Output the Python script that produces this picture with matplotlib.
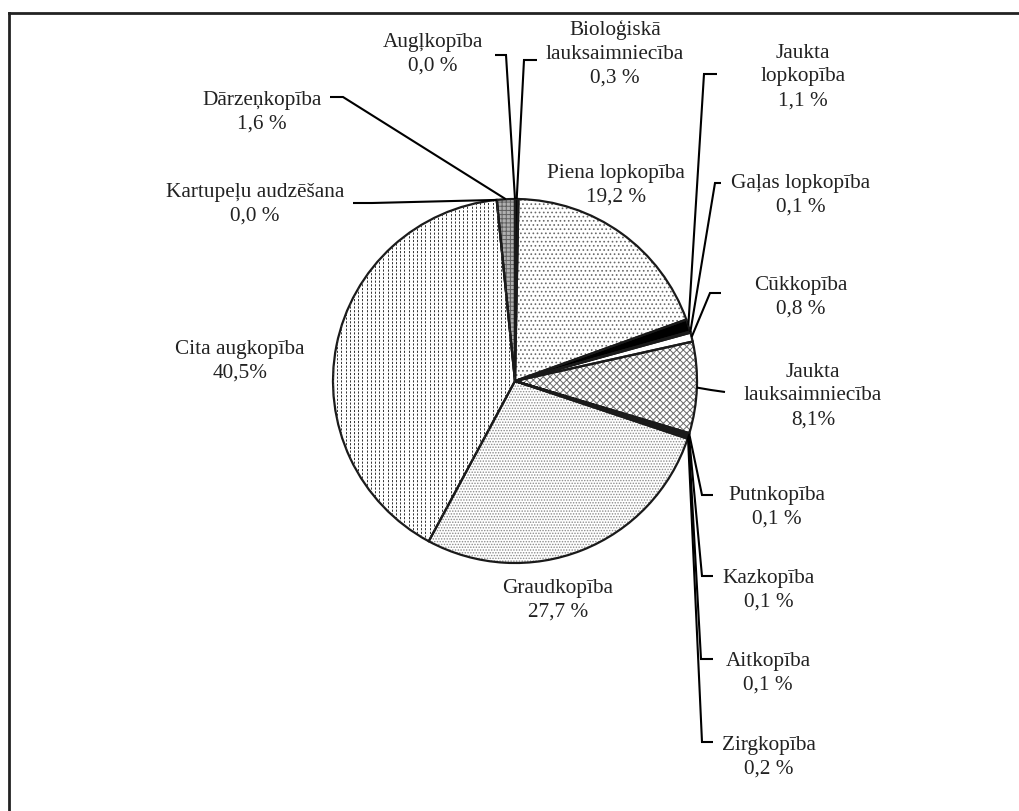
import numpy as np
import matplotlib
matplotlib.use("Agg")
import matplotlib.pyplot as plt
from matplotlib.lines import Line2D

# ---- data ----
categories = ["Bioloģiskā\nlauksaimniecība", "Piena lopkopība", "Jaukta\nlopkopība",
              "Gaļas lopkopība", "Cūkkopība", "Jaukta\nlauksaimniecība", "Putnkopība",
              "Kazkopība", "Aitkopība", "Zirgkopība", "Graudkopība", "Cita augkopība",
              "Kartupeļu audzēšana", "Dārzeņkopība", "Augļkopība"]
values = [0.3, 19.2, 1.1, 0.1, 0.8, 8.1, 0.1, 0.1, 0.1, 0.2, 27.7, 40.5, 0.0, 1.6, 0.0]
pct_labels = ["0,3 %", "19,2 %", "1,1 %", "0,1 %", "0,8 %", "8,1%", "0,1 %", "0,1 %",
              "0,1 %", "0,2 %", "27,7 %", "40,5%", "0,0 %", "1,6 %", "0,0 %"]

# ---- styles ----
faces = ["black", "white", "black", "white", "white", "white", "black", "black",
         "black", "black", "white", "white", "white", "#b0b0b0", "white"]
hatches = [None, "....", None, None, None, "xxxxx", None, None, None, None, "......",
           None, None, "++++", None]
hatch_cols = ["black", "#6a6a6a", "black", "black", "black", "#6a6a6a", "black", "black",
              "black", "black", "#8a8a8a", "black", "black", "#606060", "black"]

# label block centres (pixels, top-left origin)
label_pos = [(615, 54), (616, 185), (803, 77), (801, 195), (801, 297), (813, 396),
             (777, 507), (769, 590), (768, 673), (769, 757), (558, 600), (240, 361),
             (255, 204), (262, 112), (433, 54)]
# leader polylines: (elbow, end), pixels
leaders = [((524, 60), (537, 60)), None, ((704, 74), (717, 74)), ((715, 183), (721, 183)),
           ((710, 293), (721, 293)), ((711, 390), (725, 392)), ((702, 495), (713, 495)),
           ((702, 576), (713, 576)), ((701, 659), (713, 659)), ((702, 742), (713, 742)),
           None, None, ((372, 203), (353, 203)), ((343, 97), (330, 97)), ((506, 55), (495, 55))]

W, H = 1019, 811
plt.rcParams['hatch.linewidth'] = 0.7
fig = plt.figure(figsize=(W / 100, H / 100), dpi=100)
ax = fig.add_axes([0, 0, 1, 1])
ax.set_xlim(0, W)
ax.set_ylim(0, H)
ax.set_aspect('equal')
ax.axis('off')

def Y(y):
    return H - y

cx, cy, R = 515, 381, 182

# fill layer
wedges, _ = ax.pie(values, startangle=90, counterclock=False, center=(cx, Y(cy)),
                   radius=R, colors=faces, wedgeprops=dict(linewidth=0), frame=True)
for w, h, hc in zip(wedges, hatches, hatch_cols):
    if h:
        w.set_hatch(h)
        w.set_edgecolor(hc)
        w.set_linewidth(0)

# dashed vertical texture for "Cita augkopība"
cita = wedges[11]
xs = np.arange(cx - R, cx + R, 4.2)
vl = ax.vlines(xs, Y(cy) - R, Y(cy) + R, colors="#333333", linewidth=0.7,
               linestyles=(0, (2.2, 1.6)))
vl.set_clip_path(cita)

# outline layer
wo, _ = ax.pie(values, startangle=90, counterclock=False, center=(cx, Y(cy)),
               radius=R, colors=["none"] * len(values),
               wedgeprops=dict(linewidth=1.6, edgecolor="#1a1a1a", fill=False), frame=True)
ax.set_xlim(0, W)
ax.set_ylim(0, H)
ax.axis('off')

# labels and leaders
for i, (cat, pct) in enumerate(zip(categories, pct_labels)):
    lx, ly = label_pos[i]
    ax.text(lx, Y(ly), cat + "\n" + pct, ha="center", va="center", fontsize=15.3,
            family="Liberation Serif", color="#222222", linespacing=1.35)
    if leaders[i] is not None:
        w = wo[i]
        th = np.deg2rad((w.theta1 + w.theta2) / 2)
        ax0 = cx + R * np.cos(th)
        ay0 = Y(cy) + R * np.sin(th)
        (ex, ey), (fx, fy) = leaders[i]
        ax.plot([ax0, ex, fx], [ay0, Y(ey), Y(fy)], color="black", lw=1.5,
                solid_capstyle="butt", solid_joinstyle="miter")

# frame (top and left only visible)
fig.add_artist(Line2D([8.5 / W, 1], [1 - 13 / H, 1 - 13 / H], color="#222222", lw=2,
                      transform=fig.transFigure))
fig.add_artist(Line2D([8.5 / W, 8.5 / W], [0, 1 - 13 / H], color="#222222", lw=2,
                      transform=fig.transFigure))

fig.savefig("out.png", dpi=100)
